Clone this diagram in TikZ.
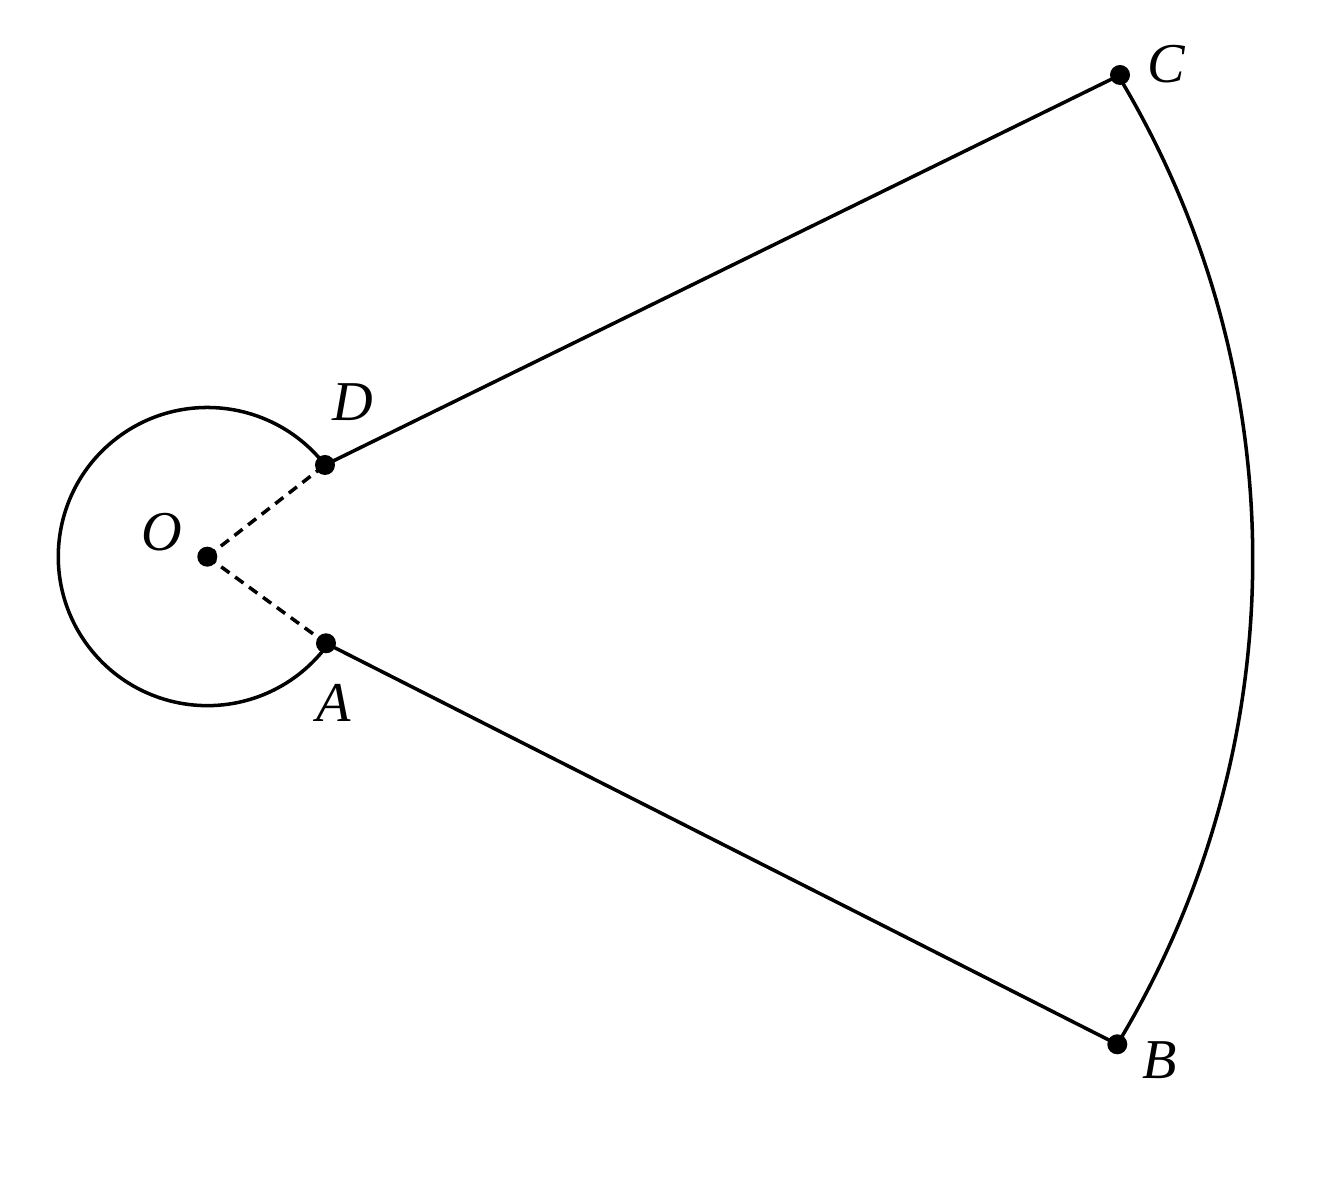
\documentclass[tikz,border=0pt]{standalone}
\usepackage{fontspec}
\setmainfont{Liberation Serif}
\begin{document}
\begin{tikzpicture}[x=0.01cm,y=-0.01cm,
  edge/.style={line width=1pt, line join=round},
  dashline/.style={line width=1pt, dash pattern=on 2.9pt off 2pt},
  dot/.style={circle, fill=black, inner sep=0pt, minimum size=0.2cm},
  lbl/.style={font=\fontsize{16}{16}\selectfont\itshape, inner sep=0pt}]
\useasboundingbox (0,0) rectangle (1329,1183);
\node[dot] (O) at (207.3,556.7) {};
\node[dot] (D) at (325,465) {};
\node[dot] (A) at (326,643.3) {};
\node[dot] (C) at (1120,75) {};
\node[dot] (B) at (1117.3,1044.3) {};
\node[lbl] (lO) at (162,532) {O};
\node[lbl] (lD) at (353,402) {D};
\node[lbl] (lA) at (334,703) {A};
\node[lbl] (lC) at (1166,64) {C};
\node[lbl] (lB) at (1160,1060) {B};
\draw[dashline] (O.center) -- (D.center);
\draw[dashline] (O.center) -- (A.center);
\draw[edge] (D.center) -- (C.center);
\draw[edge] (A.center) -- (B.center);
\draw[edge] (D.center) arc[start angle=37.9, end angle=323.9, radius=1.49cm];
\draw[edge] (B.center) arc[start angle=-31.2, end angle=31.1, radius=9.36cm];
\end{tikzpicture}
\end{document}
